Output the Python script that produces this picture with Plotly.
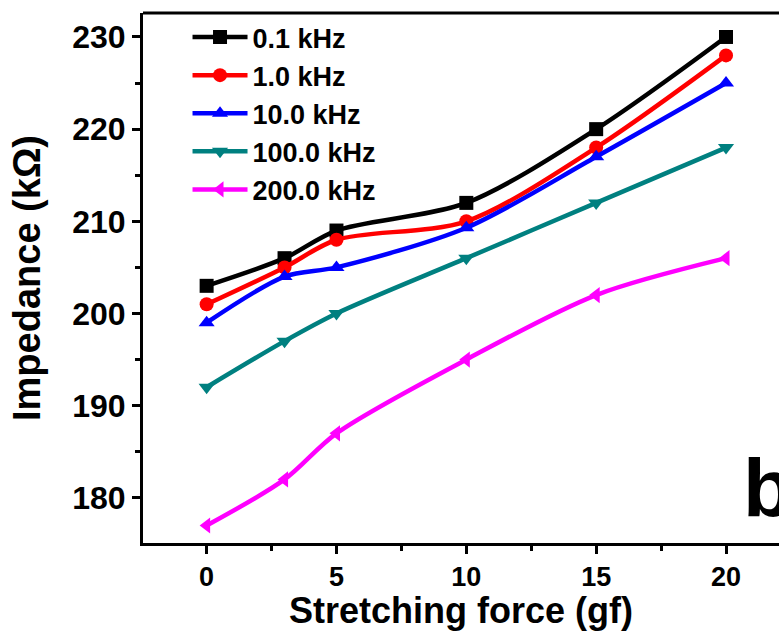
import plotly.graph_objects as go

force = [0, 3, 5, 10, 15, 20]
names = ["0.1 kHz", "1.0 kHz", "10.0 kHz", "100.0 kHz", "200.0 kHz"]
imp_01k = [203, 206, 209, 212, 220, 230]
imp_1k = [201, 205, 208, 210, 218, 228]
imp_10k = [199, 204, 205, 209.3, 217, 225]
imp_100k = [192, 197, 200, 206, 212, 218]
imp_200k = [177, 182, 187, 195, 202, 206]
series = [imp_01k, imp_1k, imp_10k, imp_100k, imp_200k]
colors = ["#000000", "#FF0000", "#0000FF", "#008080", "#FF00FF"]
symbols = ["square", "circle", "triangle-up", "triangle-down", "triangle-left"]

FONT = "Liberation Sans, Arial, sans-serif"

fig = go.Figure()
for name, vals, c, s in zip(names, series, colors, symbols):
    fig.add_trace(go.Scatter(
        x=force, y=vals, name=name, mode="lines+markers",
        line=dict(color=c, width=4.5, shape="spline", smoothing=0.85),
        marker=dict(color=c, symbol=s, size=14),
    ))

axis_common = dict(
    showline=True, linecolor="black", linewidth=3,
    ticks="outside", ticklen=8, tickwidth=3, tickcolor="black",
    showgrid=False, zeroline=False,
)

fig.update_xaxes(
    range=[-2.45, 22.04], tickmode="array", tickvals=[0, 5, 10, 15, 20],
    minor=dict(ticks="outside", dtick=2.5, tick0=0, ticklen=5, tickwidth=3, tickcolor="black"),
    tickfont=dict(family=FONT, size=27, color="black", weight="bold"),
    title=dict(text="Stretching force (gf)", standoff=2,
               font=dict(family=FONT, size=36, color="black", weight="bold")),
    **axis_common,
)
fig.update_yaxes(
    range=[175.1, 232.6], tickmode="array", tickvals=[180, 190, 200, 210, 220, 230],
    minor=dict(ticks="outside", dtick=5, tick0=0, ticklen=5, tickwidth=3, tickcolor="black"),
    tickfont=dict(family=FONT, size=32, color="black", weight="bold"),
    title=dict(text="Impedance (kΩ)", standoff=20,
               font=dict(family=FONT, size=38, color="black", weight="bold")),
    **axis_common,
)

fig.add_shape(type="line", xref="paper", yref="paper", x0=0, x1=1, y0=1, y1=1,
              line=dict(color="black", width=3))

fig.add_annotation(text="b", xref="paper", yref="paper", x=0.94, y=0.015,
                   xanchor="left", yanchor="bottom", showarrow=False,
                   font=dict(family=FONT, size=82, color="black", weight="bold"))

fig.update_layout(
    width=779, height=631,
    margin=dict(l=143, r=0, t=13, b=88),
    paper_bgcolor="white", plot_bgcolor="white",
    legend=dict(x=0.07, y=1.0, xanchor="left", yanchor="top",
                bgcolor="rgba(0,0,0,0)",
                font=dict(family=FONT, size=27, color="black", weight="bold"),
                tracegroupgap=0, itemwidth=55),
    showlegend=True,
)

fig.write_html("out.html")
